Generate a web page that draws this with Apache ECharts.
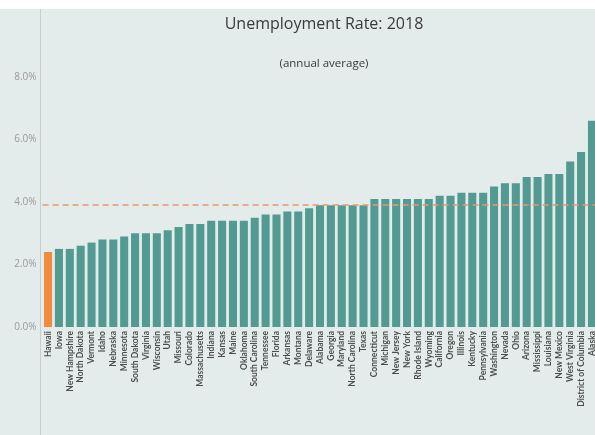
<!DOCTYPE html>
<html>
<head>
<meta charset="utf-8">
<script src="https://cdn.jsdelivr.net/npm/echarts@6/dist/echarts.min.js"></script>
<style>
html,body{margin:0;padding:0;overflow:hidden;background:#ffffff;}
#c{width:600px;height:435px;}
</style>
</head>
<body>
<div id="c"></div>
<script>
const states = ["Hawaii","Iowa","New Hampshire","North Dakota","Vermont","Idaho","Nebraska","Minnesota","South Dakota","Virginia","Wisconsin","Utah","Missouri","Colorado","Massachusetts","Indiana","Kansas","Maine","Oklahoma","South Carolina","Tennessee","Florida","Arkansas","Montana","Delaware","Alabama","Georgia","Maryland","North Carolina","Texas","Connecticut","Michigan","New Jersey","New York","Rhode Island","Wyoming","California","Oregon","Illinois","Kentucky","Pennsylvania","Washington","Nevada","Ohio","Arizona","Mississippi","Louisiana","New Mexico","West Virginia","District of Columbia","Alaska"];
const rates = [2.4,2.5,2.5,2.6,2.7,2.8,2.8,2.9,3.0,3.0,3.0,3.1,3.2,3.3,3.3,3.4,3.4,3.4,3.4,3.5,3.6,3.6,3.7,3.7,3.8,3.9,3.9,3.9,3.9,3.9,4.1,4.1,4.1,4.1,4.1,4.1,4.2,4.2,4.3,4.3,4.3,4.5,4.6,4.6,4.8,4.8,4.9,4.9,5.3,5.6,6.6];
const highlighted = ["Hawaii"];
const usAverage = 3.9;
const yTicks = [0,2,4,6,8];

const chart = echarts.init(document.getElementById('c'), null, {renderer:'canvas'});
const data = states.map((s,i)=>({
  value: rates[i],
  itemStyle: {color: highlighted.includes(s) ? '#f28b3c' : '#539a93'}
}));
chart.setOption({
  backgroundColor: '#e3ecea',
  animation: false,
  textStyle: {fontFamily: 'Open Sans'},
  title: [{
    text: 'Unemployment Rate: 2018',
    left: 319, top: 11, textAlign: 'center',
    textStyle: {fontSize: 16, fontWeight: 'normal', color: '#3a3a3a', fontFamily: 'Open Sans'}
  },{
    text: '(annual average)',
    left: 319, top: 53, textAlign: 'center',
    textStyle: {fontSize: 11.5, fontWeight: 'normal', color: '#3a3a3a', fontFamily: 'Open Sans'}
  }],
  grid: {left: 42.6, right: 2.6, top: 77, bottom: 108},
  xAxis: {
    type: 'category',
    data: states,
    axisLine: {show: false},
    axisTick: {show: false},
    axisLabel: {rotate: 90, interval: 0, fontSize: 8.5, fontWeight: 'bold', color: '#4d4d4d', margin: 4, fontFamily: 'Lato'}
  },
  yAxis: {
    type: 'value',
    min: yTicks[0], max: yTicks[yTicks.length-1], interval: 2,
    splitLine: {show: false},
    axisLine: {show: false},
    axisTick: {show: false},
    axisLabel: {formatter: v => v.toFixed(1) + '%', fontSize: 10, color: '#9a9a9a', margin: 6, fontFamily: 'Open Sans'}
  },
  graphic: [
    {type: 'rect', shape: {x: 0, y: 0, width: 600, height: 9}, style: {fill: '#ffffff'}, z: 10},
    {type: 'line', shape: {x1: 40.5, y1: 9, x2: 40.5, y2: 435}, style: {stroke: '#c6cfcd', lineWidth: 1}, z: 10}
  ],
  series: [{
    type: 'bar',
    data: data,
    barCategoryGap: '26%',
    markLine: {
      symbol: 'none',
      silent: true,
      label: {show: false},
      lineStyle: {color: '#e39a72', type: [6, 4], width: 1.5},
      data: [{yAxis: usAverage}]
    }
  }]
});
</script>
</body>
</html>
